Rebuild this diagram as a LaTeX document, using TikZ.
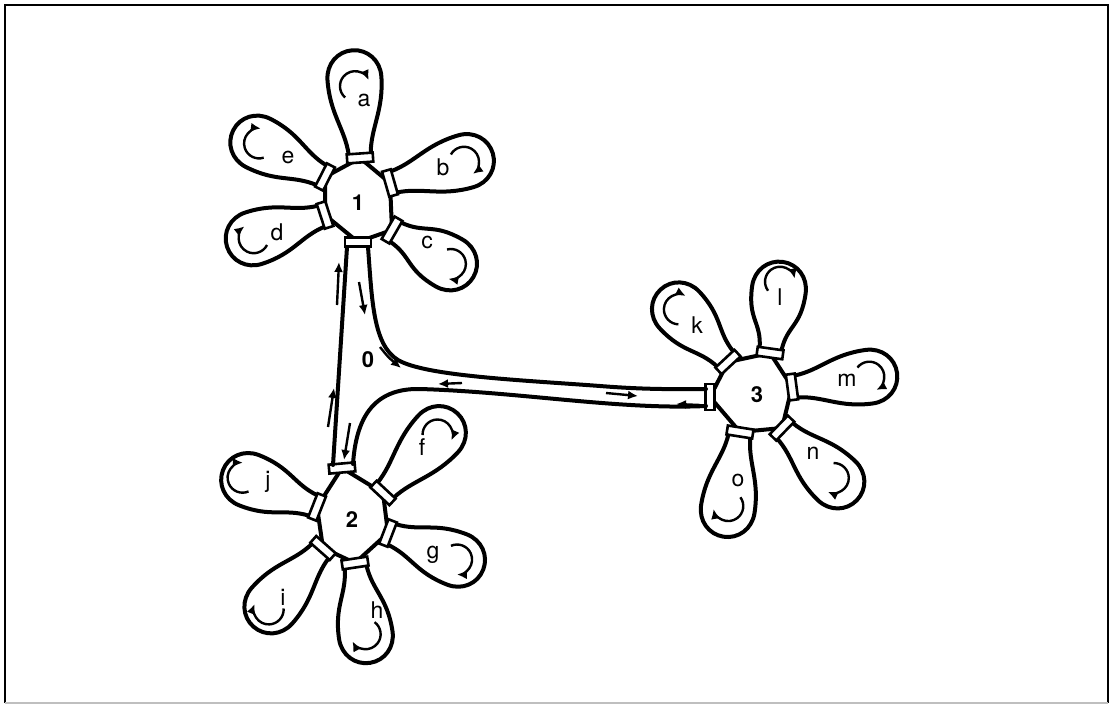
\documentclass[tikz,border=0pt]{standalone}
\usepackage{fontspec}
\setmainfont{TeX Gyre Heros}
\usepackage{tikz}
\usetikzlibrary{arrows.meta,calc,backgrounds}

% one lobe with its port: name, port position, direction, length, label, label position, arrow distance
\newcommand{\petal}[7]{%
  \begin{scope}[shift={#2}, rotate=#3]
    \draw[lobe] (4,-11) .. controls (30,-13) and ({#4-62},-27) .. ({#4-28},-27)
      .. controls ({#4-12},-27) and (#4,-15) .. (#4,0)
      .. controls (#4,15) and ({#4-12},27) .. ({#4-28},27)
      .. controls ({#4-62},27) and (30,13) .. (4,11);
    \draw[flow] (#7,0) ++(135:15) arc[start angle=135, end angle=-70, radius=15];
  \end{scope}
  \node[port, rotate=#3] (#1) at #2 {};
  \node[lbl] (#1-lbl) at #6 {#5};
}

\begin{document}
\begin{tikzpicture}[
    x=1pt, y=1pt,
    lobe/.style={line width=4pt, line join=round},
    hub/.style={line width=4pt, line join=round},
    wall/.style={line width=4pt, line cap=round},
    flow/.style={line width=2.4pt, -{Latex[length=10pt, width=9pt]}},
    port/.style={rectangle, draw, fill=white, line width=2.6pt, minimum width=9pt, minimum height=26pt, inner sep=0pt},
    lbl/.style={font=\fontsize{23}{26}\selectfont},
    hubnum/.style={font=\fontsize{22}{26}\selectfont\bfseries}
]
    \useasboundingbox (0,0) rectangle (1113,-709);
    % frame
    \draw[line width=2pt] (5,-703) -- (5,-5) -- (1108,-5) -- (1108,-703);
    \draw[line width=2pt, gray!50] (5,-703) -- (1108,-703);

    % hub 1
    \node[hubnum] (hub1) at (358,-203) {1};
    \petal{p1a}{(360,-158)}{94}{108}{a}{(364,-100)}{72}
    \petal{p1b}{(390,-183)}{16}{107}{b}{(443,-167)}{77}
    \petal{p1c}{(392,-230)}{-30}{94}{c}{(427,-242)}{68}
    \petal{p1d}{(325,-215)}{198}{103}{d}{(277,-232)}{75}
    \petal{p1e}{(325,-177)}{153}{103}{e}{(288,-157)}{74}
    \node[port, rotate=-90] (p1s) at (358,-242) {};

    % hub 2
    \node[hubnum] (hub2) at (352,-520) {2};
    \petal{p2f}{(383,-493)}{47}{109}{f}{(422,-447)}{80}
    \petal{p2g}{(388,-533)}{-21}{102}{g}{(433,-555)}{74}
    \petal{p2h}{(355,-563)}{-81.5}{101}{h}{(377,-610)}{72}
    \petal{p2i}{(323,-548)}{228.5}{105}{i}{(283,-597)}{82}
    \petal{p2j}{(317,-507)}{158.5}{101}{j}{(268,-482)}{80}
    \node[port, rotate=95] (p2s) at (342,-468) {};

    % hub 3
    \node[hubnum] (hub3) at (757,-395) {3};
    \petal{p3k}{(728,-362)}{133}{99}{k}{(697,-325)}{72}
    \petal{p3l}{(770,-353)}{82}{92}{l}{(780,-297)}{72}
    \petal{p3m}{(792,-387)}{7.6}{106}{m}{(847,-380)}{78}
    \petal{p3n}{(782,-428)}{-44}{104}{n}{(813,-453)}{72}
    \petal{p3o}{(740,-432)}{261}{106}{o}{(738,-480)}{75}
    \node[port, rotate=180] (p3s) at (710,-397) {};

    % hub bodies
    \begin{scope}[on background layer]
        \draw[hub] (p1a.center) -- (p1e.center) -- (p1d.center) -- (p1s.center) -- (p1c.center) -- (p1b.center) -- cycle;
        \draw[hub] (p2s.center) -- (p2j.center) -- (p2i.center) -- (p2h.center) -- (p2g.center) -- (p2f.center) -- cycle;
        \draw[hub] (p3l.center) -- (p3k.center) -- (p3s.center) -- (p3o.center) -- (p3n.center) -- (p3m.center) -- cycle;
    \end{scope}

    % channel 0
    \node[hubnum] (hub0) at (368,-360) {0};
    \draw[wall] ($(p1s)+(-11,-5)$) -- ($(p2s)+(-9,3)$);
    \draw[wall] ($(p1s)+(10,-5)$) .. controls (372,-300) and (373,-345) .. (398,-360)
        .. controls (425,-376) and (520,-380) .. (600,-386)
        .. controls (650,-390) and (680,-389) .. ($(p3s)+(-4,8)$);
    \draw[wall] ($(p3s)+(-4,-9)$) .. controls (620,-410) and (520,-392) .. (420,-389)
        .. controls (372,-388) and (356,-420) .. ($(p2s)+(11,4)$);

    % flow marks
    \draw[flow] (337,-305) -- (339,-262);
    \draw[flow] (359,-282) -- (365,-315);
    \draw[flow] (380,-347) .. controls (388,-357) .. (401,-368);
    \draw[flow] (328,-427) -- (334,-388);
    \draw[flow] (350,-423) -- (344,-460);
    \draw[flow] (462,-383) -- (438,-384);
    \draw[flow] (606,-393) -- (638,-396);
    \draw[flow] (700,-405) -- (676,-404);
\end{tikzpicture}
\end{document}
